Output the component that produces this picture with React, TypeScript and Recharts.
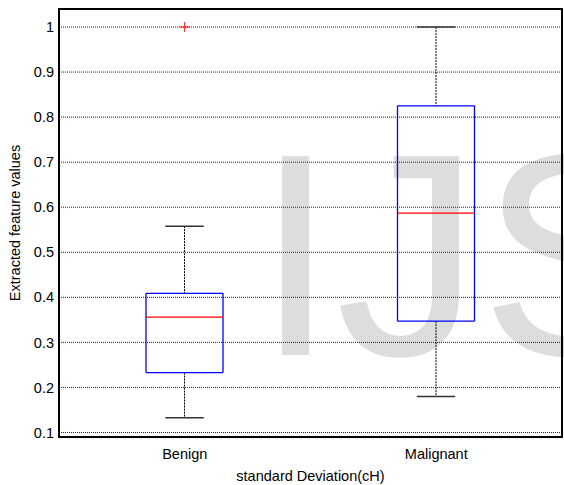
import React from 'react';
import * as R from 'recharts';
import { ComposedChart, Bar, Line, XAxis, YAxis, CartesianGrid } from 'recharts';

const categories = ['Benign', 'Malignant'];
const whiskerLow = [0.133, 0.18];
const q1 = [0.233, 0.347];
const median = [0.356, 0.587];
const q3 = [0.409, 0.825];
const whiskerHigh = [0.558, 1.0];
const outliers: (number | null)[] = [1.0, null];
const yTicks = [0.1, 0.2, 0.3, 0.4, 0.5, 0.6, 0.7, 0.8, 0.9, 1];

const data = categories.map((name, i) => ({
  name,
  base: whiskerLow[i],
  lw: q1[i] - whiskerLow[i],
  bl: median[i] - q1[i],
  bu: q3[i] - median[i],
  uw: whiskerHigh[i] - q3[i],
  outlier: outliers[i],
}));

const W = 564;
const H = 485;
const MARGIN = { top: 9, right: 2, left: 0, bottom: 0 };
const Y_AXIS_W = 59;
const X_AXIS_H = 48;

const FONT = '"Liberation Sans", Arial, sans-serif';
const BLUE = '#0000ff';
const RED = '#ff0000';

const usePlot: () => any =
  (R as any).usePlotArea ||
  (() => ({
    x: MARGIN.left + Y_AXIS_W,
    y: MARGIN.top,
    width: W - MARGIN.left - MARGIN.right - Y_AXIS_W,
    height: H - MARGIN.top - MARGIN.bottom - X_AXIS_H,
  }));

const LowerWhisker = (p: any) => {
  const { x, y, width, height } = p;
  const cx = x + width / 2;
  const cap = width / 4;
  return (
    <g>
      <line x1={cx} x2={cx} y1={y} y2={y + height} stroke="#000" strokeDasharray="2 1" />
      <line x1={cx - cap} x2={cx + cap} y1={y + height} y2={y + height} stroke="#333" strokeWidth={1.5} />
    </g>
  );
};

const UpperWhisker = (p: any) => {
  const { x, y, width, height } = p;
  const cx = x + width / 2;
  const cap = width / 4;
  return (
    <g>
      <line x1={cx} x2={cx} y1={y} y2={y + height} stroke="#000" strokeDasharray="2 1" />
      <line x1={cx - cap} x2={cx + cap} y1={y} y2={y} stroke="#333" strokeWidth={1.5} />
    </g>
  );
};

const BoxLower = (p: any) => {
  const { x, y, width, height } = p;
  return (
    <g>
      <line x1={x} x2={x} y1={y} y2={y + height} stroke={BLUE} strokeWidth={1.3} />
      <line x1={x + width} x2={x + width} y1={y} y2={y + height} stroke={BLUE} strokeWidth={1.3} />
      <line x1={x} x2={x + width} y1={y + height} y2={y + height} stroke={BLUE} strokeWidth={1.3} />
    </g>
  );
};

const BoxUpper = (p: any) => {
  const { x, y, width, height } = p;
  return (
    <g>
      <line x1={x} x2={x} y1={y} y2={y + height} stroke={BLUE} strokeWidth={1.3} />
      <line x1={x + width} x2={x + width} y1={y} y2={y + height} stroke={BLUE} strokeWidth={1.3} />
      <line x1={x} x2={x + width} y1={y} y2={y} stroke={BLUE} strokeWidth={1.3} />
      <line x1={x} x2={x + width} y1={y + height} y2={y + height} stroke={RED} strokeWidth={1.1} />
    </g>
  );
};

const PlusDot = (p: any) => {
  const { cx, cy, value } = p;
  if (cx == null || cy == null || value == null || isNaN(cy)) return <g key={p.key} />;
  return (
    <g key={p.key}>
      <line x1={cx - 5} x2={cx + 5} y1={cy} y2={cy} stroke={RED} strokeWidth={1} />
      <line x1={cx} x2={cx} y1={cy - 5} y2={cy + 5} stroke={RED} strokeWidth={1} />
    </g>
  );
};

const Frame = () => {
  const pa = usePlot();
  if (!pa) return null;
  const { x, y, width, height } = pa;
  const cx = x + width / 2;
  const cy = y + height / 2;
  return (
    <g>
      <rect x={x} y={y} width={width} height={height} fill="none" stroke="#000" strokeWidth={2} />
      <text x={cx} y={y + height + 44} textAnchor="middle" fontFamily={FONT} fontSize={14.5} fill="#000">
        standard Deviation(cH)
      </text>
      <text
        x={20}
        y={cy}
        textAnchor="middle"
        transform={`rotate(-90, 20, ${cy})`}
        fontFamily={FONT}
        fontSize={14.5}
        fill="#000"
      >
        Extracted feature values
      </text>
    </g>
  );
};

export default function App() {
  return (
    <div style={{ position: 'absolute', left: 0, top: 0, width: W, height: H, overflow: 'hidden', background: '#fff' }}>
      <svg width={W} height={H} style={{ position: 'absolute', left: 0, top: 0 }}>
        <text x={255.5} y={355} fontFamily={FONT} fontSize={289} fill="#dddddd">
          IJS
        </text>
      </svg>
      <div style={{ position: 'absolute', left: 0, top: 0 }}>
        <ComposedChart width={W} height={H} data={data} margin={MARGIN} barCategoryGap={0}>
          <CartesianGrid vertical={false} stroke="#222" strokeDasharray="1 1" />
          <XAxis
            dataKey="name"
            interval={0}
            tickLine={false}
            tickSize={0}
            tickMargin={12}
            height={X_AXIS_H}
            axisLine={false}
            tick={{ fill: '#000', fontSize: 14.5, fontFamily: FONT }}
          />
          <YAxis
            type="number"
            domain={[0.09, 1.04]}
            allowDataOverflow
            ticks={yTicks}
            interval={0}
            width={Y_AXIS_W}
            tickLine={false}
            tickSize={0}
            tickMargin={5}
            tickFormatter={(v: number) => String(v)}
            axisLine={false}
            tick={{ fill: '#000', fontSize: 14.5, fontFamily: FONT }}
          />
          <Bar dataKey="base" stackId="box" barSize={77} fill="none" shape={() => <g />} isAnimationActive={false} legendType="none" />
          <Bar dataKey="lw" stackId="box" barSize={77} shape={LowerWhisker} isAnimationActive={false} legendType="none" />
          <Bar dataKey="bl" stackId="box" barSize={77} shape={BoxLower} isAnimationActive={false} legendType="none" />
          <Bar dataKey="bu" stackId="box" barSize={77} shape={BoxUpper} isAnimationActive={false} legendType="none" />
          <Bar dataKey="uw" stackId="box" barSize={77} shape={UpperWhisker} isAnimationActive={false} legendType="none" />
          <Line dataKey="outlier" stroke="none" dot={PlusDot} activeDot={false} isAnimationActive={false} legendType="none" />
          <Frame />
        </ComposedChart>
      </div>
    </div>
  );
}
